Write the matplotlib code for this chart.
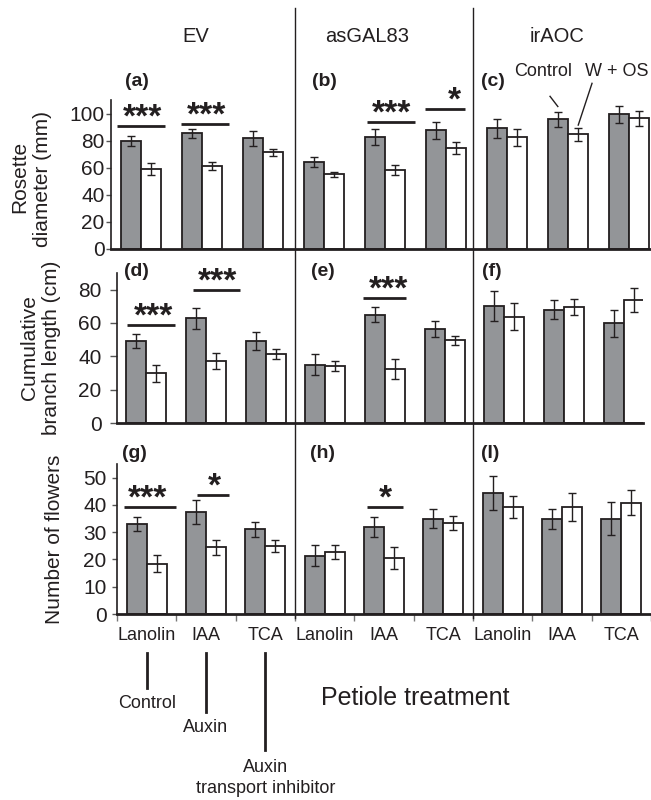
import numpy as np
import matplotlib.pyplot as plt
from matplotlib.lines import Line2D
from matplotlib.transforms import blended_transform_factory

plt.rcParams['font.family'] = ['Liberation Sans', 'DejaVu Sans']

genotypes = ['EV', 'asGAL83', 'irAOC']
treatments = ['Lanolin', 'IAA', 'TCA']
panel_labels = [['(a)', '(b)', '(c)'], ['(d)', '(e)', '(f)'], ['(g)', '(h)', '(I)']]

# order of values: EV (Lanolin, IAA, TCA), asGAL83 (...), irAOC (...)
rosette_ctrl = [79.6, 85.3, 81.6, 64.4, 82.6, 87.5, 89.0, 95.8, 99.3]
rosette_ctrl_err = [3.7, 3.0, 5.5, 3.7, 6.0, 6.0, 7.0, 5.4, 6.0]
rosette_wos = [59.0, 61.5, 71.3, 55.1, 58.3, 74.3, 82.4, 84.8, 96.5]
rosette_wos_err = [4.3, 3.0, 2.7, 2.0, 3.7, 4.5, 6.0, 4.7, 5.5]

branch_ctrl = [49.2, 62.9, 49.2, 35.0, 65.1, 56.4, 70.3, 67.9, 59.9]
branch_ctrl_err = [4.2, 6.4, 5.2, 6.3, 4.7, 4.9, 9.0, 5.7, 8.0]
branch_wos = [29.9, 37.2, 41.6, 34.4, 32.2, 49.6, 63.9, 69.7, 73.9]
branch_wos_err = [5.0, 4.9, 3.0, 3.0, 6.0, 2.6, 8.2, 4.7, 7.0]

flowers_ctrl = [33.0, 37.4, 31.0, 21.4, 31.9, 35.0, 44.5, 34.8, 34.9]
flowers_ctrl_err = [2.7, 4.5, 2.8, 3.9, 3.6, 3.4, 6.2, 3.8, 6.1]
flowers_wos = [18.5, 24.5, 24.9, 22.7, 20.5, 33.3, 39.1, 39.2, 40.8]
flowers_wos_err = [3.0, 2.7, 2.1, 2.7, 4.0, 2.6, 4.0, 5.0, 4.5]

# significance: category index, label, height of the line
rosette_sig_cat = [0, 1, 4, 5]
rosette_sig_lab = ['***', '***', '***', '*']
rosette_sig_y = [91.0, 92.6, 93.8, 103.7]
branch_sig_cat = [0, 1, 4]
branch_sig_lab = ['***', '***', '***']
branch_sig_y = [59.0, 79.6, 75.2]
flowers_sig_cat = [0, 1, 4]
flowers_sig_lab = ['***', '*', '*']
flowers_sig_y = [39.3, 43.8, 39.4]

# line extents / star offsets (in category units)
rosette_sig_span = [(-0.39, 0.39, 0.03), (-0.34, 0.44, 0.08), (-0.30, 0.49, 0.11), (-0.34, 0.31, 0.13)]
branch_sig_span = [(-0.32, 0.49, 0.12), (-0.22, 0.58, 0.20), (-0.37, 0.36, 0.06)]
flowers_sig_span = [(-0.39, 0.49, 0.01), (-0.16, 0.38, 0.15), (-0.28, 0.32, 0.02)]

W, H = 651, 800
GREY = '#939598'
DARK = '#231f20'


def fx(px):
    return px / W


def fy(py):
    return 1 - py / H


fig = plt.figure(figsize=(6.51, 8), dpi=100)

# axes: left/right/top/bottom in pixels
ax1 = fig.add_axes([fx(111), fy(249), fx(651 - 111), (249 - 100) / H])
ax2 = fig.add_axes([fx(117), fy(423), fx(643 - 117), (423 - 273) / H])
ax3 = fig.add_axes([fx(117), fy(614), fx(651 - 117), (614 - 464) / H])

rows = [
    (ax1, rosette_ctrl, rosette_ctrl_err, rosette_wos, rosette_wos_err, (0, 110), np.arange(0, 101, 20),
     (-0.492, 8.36), rosette_sig_cat, rosette_sig_lab, rosette_sig_y, rosette_sig_span, (3.6, 1)),
    (ax2, branch_ctrl, branch_ctrl_err, branch_wos, branch_wos_err, (0, 90), np.arange(0, 81, 20),
     (-0.487, 8.32), branch_sig_cat, branch_sig_lab, branch_sig_y, branch_sig_span, (5, 6)),
    (ax3, flowers_ctrl, flowers_ctrl_err, flowers_wos, flowers_wos_err, (0, 55), np.arange(0, 51, 10),
     (-0.5, 8.5), flowers_sig_cat, flowers_sig_lab, flowers_sig_y, flowers_sig_span, (3.6, 4)),
]

w = 0.335
for ax, c, ce, o, oe, ylim, yt, xlim, scat, slab, sy, sspan, (tl, tp) in rows:
    x = np.arange(len(c))
    ekw = dict(ecolor=DARK, elinewidth=1, capsize=3, capthick=1)
    ax.bar(x - w / 2, c, w, yerr=ce, color=GREY, edgecolor=DARK, linewidth=1.3, error_kw=ekw, zorder=2)
    ax.bar(x + w / 2, o, w, yerr=oe, color='white', edgecolor=DARK, linewidth=1.3, error_kw=ekw, zorder=2)
    ax.set_ylim(*ylim)
    ax.set_xlim(*xlim)
    ax.set_yticks(yt)
    ax.tick_params(axis='y', labelsize=15, length=tl, width=1, pad=tp, color='#555555', labelcolor=DARK)
    for s in ['top', 'right']:
        ax.spines[s].set_visible(False)
    ax.spines['left'].set_linewidth(1.2)
    ax.spines['bottom'].set_linewidth(2)
    ax.spines['left'].set_color(DARK)
    ax.spines['bottom'].set_color(DARK)
    ax.patch.set_alpha(0)
    for ci, lab, yy, (x0, x1, dx) in zip(scat, slab, sy, sspan):
        ax.plot([ci + x0, ci + x1], [yy, yy], color=DARK, lw=2, solid_capstyle='butt', clip_on=False)
        ax.annotate(lab, xy=(ci + dx, yy), xytext=(0, -0.5), textcoords='offset points',
                    ha='center', va='baseline', fontsize=24, fontweight='bold', color=DARK,
                    annotation_clip=False)

ax1.set_xticks([])
ax2.set_xticks([])
ax3.set_xticks(np.arange(9))
ax3.set_xticklabels(treatments * 3)
ax3.set_xticks(np.arange(-0.5, 9, 1), minor=True)
ax3.tick_params(axis='x', which='major', length=0, labelsize=13, pad=9, labelcolor=DARK)
ax3.tick_params(axis='x', which='minor', length=5, width=1, color='#777777')

# separators between genotypes
tf = fig.transFigure.inverted()
for b in [2.5, 5.5]:
    xf = tf.transform(ax3.transData.transform((b, 0)))[0]
    fig.add_artist(Line2D([xf, xf], [fy(618), fy(8)], transform=fig.transFigure, color=DARK, lw=1))

# genotype titles
for gx, g in zip([196, 367, 557], genotypes):
    fig.text(fx(gx), fy(36), g, ha='center', va='center', fontsize=14.5, color=DARK)

# panel labels
for py, labs, lxs in zip([82, 271, 453], panel_labels, [[125, 312, 481], [124, 311, 482], [122, 310, 481]]):
    for lx, lab in zip(lxs, labs):
        fig.text(fx(lx), fy(py), lab, ha='left', va='center', fontsize=14, fontweight='bold', color=DARK)

# y axis labels
fig.text(fx(20), fy(177), 'Rosette', rotation=90, ha='center', va='center', fontsize=15, color=DARK)
fig.text(fx(43), fy(179), 'diameter (mm)', rotation=90, ha='center', va='center', fontsize=15, color=DARK)
fig.text(fx(30), fy(348), 'Cumulative', rotation=90, ha='center', va='center', fontsize=15, color=DARK)
fig.text(fx(52), fy(348), 'branch length (cm)', rotation=90, ha='center', va='center', fontsize=15, color=DARK)
fig.text(fx(55), fy(539), 'Number of flowers', rotation=90, ha='center', va='center', fontsize=15, color=DARK)

# Control / W + OS key in panel (c)
fig.text(fx(543), fy(72), 'Control', ha='center', va='center', fontsize=13, color=DARK)
fig.text(fx(617), fy(72), 'W + OS', ha='center', va='center', fontsize=13, color=DARK)
ax1.plot([6.705, 7 - w / 2], [112.7, rosette_ctrl[7] + rosette_ctrl_err[7] + 4], color=DARK, lw=1, clip_on=False)
ax1.plot([7.393, 7 + w / 2], [122.3, rosette_wos[7] + rosette_wos_err[7] + 2], color=DARK, lw=1, clip_on=False)

# treatment explanation under the x axis
bt = blended_transform_factory(ax3.transData, fig.transFigure)
notes = ['Control', 'Auxin', 'Auxin\ntransport inhibitor']
note_end = [688, 712, 750]
note_y = [704, 728, 778]
for i, (nt, ye, yt_) in enumerate(zip(notes, note_end, note_y)):
    ax3.add_artist(Line2D([i, i], [fy(653), fy(ye)], transform=bt, color=DARK, lw=2, clip_on=False))
    fig.text(fx(ax3.transData.transform((i, 0))[0]), fy(yt_), nt, ha='center', va='center',
             fontsize=13, color=DARK, linespacing=1.3)

fig.text(fx(415), fy(698), 'Petiole treatment', ha='center', va='center', fontsize=18, color=DARK)

fig.savefig('out.png', dpi=100)
